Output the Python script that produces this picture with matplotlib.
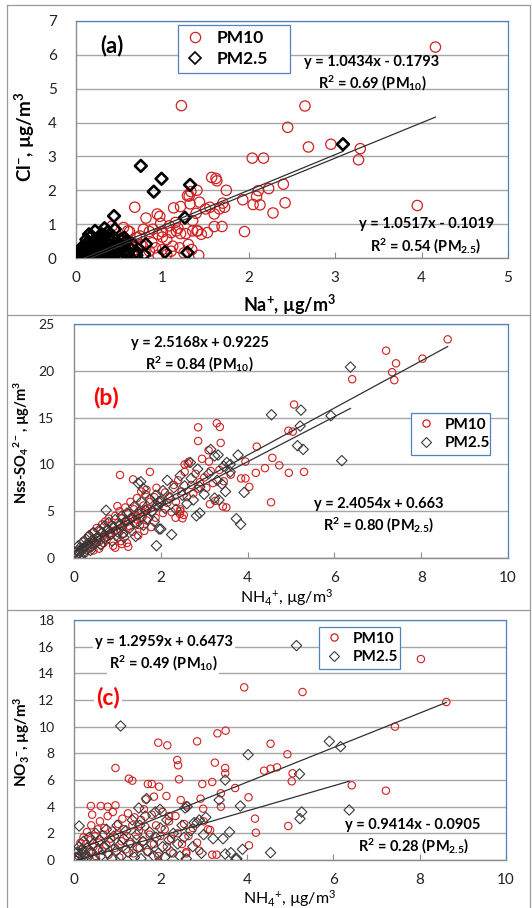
import numpy as np
import matplotlib
matplotlib.use("Agg")
import matplotlib.pyplot as plt
from matplotlib.lines import Line2D

plt.rcParams['font.family'] = ['Lato', 'DejaVu Sans']
plt.rcParams['mathtext.default'] = 'regular'

W, H = 532, 908

# ---- panel (a): Cl- vs Na+ ----
a_pm10 = np.array([
    (4.16, 6.23), (1.22, 4.50), (2.65, 4.49), (2.45, 3.86), (2.69, 3.28), (2.95, 3.36),
    (3.29, 3.23), (3.27, 2.90), (2.04, 2.95), (2.17, 2.95), (3.95, 1.55), (2.42, 1.63),
    (2.40, 2.18), (2.23, 2.05), (2.11, 1.99), (2.09, 1.82), (2.05, 1.58), (2.13, 1.57),
    (1.93, 1.72), (2.28, 1.33), (1.95, 0.78), (1.74, 2.00), (1.57, 2.38), (1.62, 2.35),
    (1.63, 2.28), (1.33, 1.96), (1.29, 1.84), (1.32, 1.60), (1.43, 1.65), (1.39, 1.32),
    (1.60, 0.93), (1.70, 1.62), (1.66, 1.45), (1.72, 1.50), (1.55, 1.50), (1.50, 1.45),
    (1.35, 0.80), (1.27, 0.72), (1.40, 0.80), (1.42, 0.08), (0.68, 1.50), (0.94, 1.30),
    (0.97, 1.23), (0.81, 1.18), (1.13, 1.48), (1.21, 1.52), (1.31, 1.83), (1.40, 2.00),
    (1.69, 0.93), (1.41, 0.80), (1.16, 0.80), (1.21, 0.72), (1.00, 0.77), (0.89, 0.85),
    (0.74, 0.65), (0.60, 0.80), (1.18, 0.88), (1.10, 0.75), (1.00, 0.62), (1.05, 0.55),
    (0.95, 0.70), (0.85, 0.78), (0.78, 0.85), (0.70, 0.60), (0.62, 0.78), (0.55, 0.90),
    (0.58, 0.45), (0.48, 0.55), (0.40, 0.70), (0.88, 0.45), (0.92, 0.30), (1.00, 0.25),
    (1.10, 0.20), (1.20, 0.30), (1.30, 0.40), (1.25, 0.15), (1.05, 0.10), (0.95, 0.08),
    (0.80, 0.15), (0.70, 0.25), (0.65, 0.10), (0.55, 0.20), (0.50, 0.05), (0.45, 0.30),
    (0.38, 0.15), (0.35, 0.40), (0.30, 0.25), (0.28, 0.08), (0.22, 0.30), (0.20, 0.12),
    (0.18, 0.02), (0.15, 0.20), (0.12, 0.08), (0.10, 0.15), (0.08, 0.03), (0.05, 0.08),
    (0.25, 0.50), (0.32, 0.55), (0.42, 0.95), (1.15, 1.05), (1.08, 0.95), (0.98, 1.02),
    (1.35, 1.10), (1.45, 0.70), (1.52, 0.75), (1.60, 1.30), (1.12, 0.35), (1.34, 0.25),
    (0.62, 0.35), (0.75, 0.40), (0.85, 0.20), (0.68, 0.05), (0.58, 0.12), (0.42, 0.10),
])
a_pm25 = np.array([
    (3.09, 3.36), (0.75, 2.72), (0.99, 2.34), (0.90, 1.96), (1.32, 2.16), (1.26, 1.19),
    (0.44, 1.24), (0.81, 0.41), (0.70, 0.08), (0.79, 0.10), (1.03, 0.18), (1.29, 0.16),
    (0.30, 0.70), (0.37, 0.78), (0.26, 0.62), (0.52, 0.55), (0.45, 0.85), (0.35, 0.45),
    (0.40, 0.30), (0.48, 0.20), (0.55, 0.35), (0.60, 0.12), (0.30, 0.20), (0.25, 0.40),
    (0.20, 0.50), (0.22, 0.25), (0.18, 0.12), (0.15, 0.30), (0.12, 0.18), (0.10, 0.05),
    (0.08, 0.12), (0.06, 0.03), (0.05, 0.10), (0.03, 0.05), (0.14, 0.08), (0.20, 0.02),
    (0.28, 0.05), (0.35, 0.12), (0.42, 0.05), (0.50, 0.08), (0.55, 0.02), (0.62, 0.30),
    (0.70, 0.18), (0.32, 0.32), (0.16, 0.40), (0.10, 0.25), (0.24, 0.15), (0.38, 0.58),
    (0.44, 0.40), (0.58, 0.50), (0.56, 0.60), (0.15, 0.70), (0.22, 0.80), (0.33, 0.88),
    (0.02, 0.02), (0.04, 0.15), (0.07, 0.22), (0.09, 0.35), (0.11, 0.10), (0.13, 0.45),
    (0.17, 0.05), (0.19, 0.22), (0.21, 0.38), (0.23, 0.08), (0.26, 0.28), (0.27, 0.18),
    (0.29, 0.42), (0.31, 0.10), (0.33, 0.22), (0.36, 0.03), (0.39, 0.40), (0.41, 0.18),
    (0.43, 0.62), (0.46, 0.10), (0.49, 0.35), (0.52, 0.25), (0.57, 0.15), (0.65, 0.42),
    (0.06, 0.30), (0.12, 0.55), (0.18, 0.65), (0.28, 0.52), (0.34, 0.65), (0.40, 0.50),
])

# ---- panel (b): nss-SO4 vs NH4 ----
b_pm10 = np.array([
    (8.61, 23.36), (7.19, 22.15), (7.42, 20.80), (8.03, 21.30), (7.33, 19.85), (7.38, 19.00),
    (6.41, 19.10), (5.07, 16.40), (4.94, 13.60), (5.04, 13.50), (4.21, 11.90), (4.57, 10.70),
    (4.73, 9.90), (4.40, 9.60), (4.19, 9.10), (4.95, 9.10), (5.30, 9.20), (4.54, 5.95),
    (3.95, 10.30), (4.04, 7.60), (3.85, 8.50), (3.61, 8.90), (2.86, 13.96), (2.86, 12.50),
    (3.29, 14.40), (3.36, 14.00), (3.38, 12.30), (3.10, 11.50), (3.43, 5.50), (3.25, 6.10),
    (2.44, 4.70), (2.34, 4.30), (1.06, 8.87), (1.75, 9.20), (1.36, 8.40), (1.00, 5.55),
    (1.67, 7.30), (2.50, 4.24), (2.53, 4.60), (2.45, 5.00), (2.55, 10.00), (2.62, 10.10),
    (3.11, 10.30), (3.51, 5.40), (3.13, 5.75), (3.95, 8.50),
    (0.10, 0.6), (0.15, 1.2), (0.20, 0.9), (0.22, 1.8), (0.25, 0.5), (0.30, 1.5),
    (0.35, 2.4), (0.38, 1.1), (0.42, 1.9), (0.45, 2.8), (0.50, 1.6), (0.52, 3.2),
    (0.55, 2.2), (0.60, 2.9), (0.62, 1.4), (0.65, 3.6), (0.70, 2.5), (0.72, 3.9),
    (0.75, 1.9), (0.78, 3.1), (0.80, 4.2), (0.85, 2.7), (0.88, 3.5), (0.90, 1.3),
    (0.95, 4.5), (0.98, 3.0), (1.00, 2.2), (1.02, 3.8), (1.05, 5.0), (1.08, 1.8),
    (1.10, 4.2), (1.12, 3.3), (1.15, 2.6), (1.18, 5.4), (1.20, 3.9), (1.22, 1.6),
    (1.25, 4.8), (1.28, 3.4), (1.30, 6.0), (1.32, 4.2), (1.35, 2.8), (1.38, 5.2),
    (1.40, 3.7), (1.42, 4.6), (1.45, 6.4), (1.48, 2.4), (1.50, 5.0), (1.52, 3.5),
    (1.55, 7.1), (1.58, 4.4), (1.60, 5.6), (1.62, 2.9), (1.65, 6.8), (1.68, 4.0),
    (1.70, 5.3), (1.75, 6.0), (1.78, 3.3), (1.80, 4.9), (1.85, 6.5), (1.88, 4.3),
    (1.90, 7.5), (1.95, 5.5), (2.00, 6.2), (2.05, 4.8), (2.10, 7.0), (2.15, 5.9),
    (2.20, 6.6), (2.25, 4.9), (2.30, 7.8), (2.35, 6.0), (2.40, 8.3), (2.45, 5.2),
    (2.48, 7.1), (2.55, 9.2), (2.60, 6.5), (2.65, 10.3), (2.70, 7.8), (2.75, 6.9),
    (2.80, 9.0), (2.85, 7.4), (2.90, 8.1), (2.95, 10.6), (3.00, 8.6), (3.05, 7.5),
    (3.15, 9.3), (3.20, 8.0), (3.35, 9.4), (3.45, 8.2), (0.45, 0.8), (0.58, 1.0),
    (0.68, 1.6), (0.95, 1.1), (1.10, 1.5), (1.25, 1.2),
    (0.40, 1.4), (0.55, 1.9), (0.70, 2.1), (0.82, 2.4), (0.92, 2.9), (1.05, 3.1),
    (1.15, 3.6), (1.25, 3.9), (1.35, 4.3), (1.45, 4.1), (1.55, 4.9), (1.65, 5.2),
])
b_pm25 = np.array([
    (6.37, 20.4), (4.55, 15.3), (5.23, 15.8), (5.21, 14.1), (5.92, 15.2), (5.15, 12.0),
    (5.28, 11.6), (6.17, 10.4), (3.78, 11.0), (3.24, 10.9), (3.92, 7.0), (3.74, 4.2),
    (3.84, 3.6), (3.41, 7.9), (3.24, 6.4), (2.90, 4.8), (2.82, 4.5), (1.90, 1.32),
    (2.25, 2.5), (1.48, 8.0), (0.74, 5.1), (3.52, 10.2), (2.68, 10.2), (3.15, 11.6),
    (3.32, 11.0), (3.60, 10.0), (3.34, 6.2), (3.49, 7.1), (1.54, 8.15), (1.60, 7.4),
    (1.95, 6.0), (2.00, 3.1),
    (0.05, 0.3), (0.08, 0.8), (0.10, 1.3), (0.12, 0.5), (0.15, 0.1), (0.18, 1.0),
    (0.20, 1.7), (0.22, 0.6), (0.25, 1.2), (0.28, 2.0), (0.30, 0.9), (0.32, 1.5),
    (0.35, 2.4), (0.40, 1.2), (0.42, 1.9), (0.45, 2.7), (0.50, 1.6), (0.55, 2.3),
    (0.58, 3.0), (0.60, 1.9), (0.65, 2.7), (0.70, 3.4), (0.72, 2.1), (0.78, 3.0),
    (0.80, 3.8), (0.85, 2.5), (0.90, 3.3), (0.95, 4.1), (1.00, 2.8), (1.05, 3.6),
    (1.10, 4.5), (1.12, 2.6), (1.18, 3.9), (1.22, 4.8), (1.28, 3.2), (1.32, 4.3),
    (1.38, 5.5), (1.42, 2.3), (1.45, 3.7), (1.50, 4.7), (1.55, 6.0), (1.60, 3.5),
    (1.65, 5.1), (1.70, 4.2), (1.75, 6.3), (1.80, 5.0), (1.85, 3.9), (1.88, 6.7),
    (1.92, 5.6), (1.96, 3.1), (2.00, 6.0), (2.05, 7.2), (2.10, 5.3), (2.15, 8.3),
    (2.20, 6.4), (2.30, 7.5), (2.35, 5.2), (2.45, 8.8), (2.50, 6.7), (2.55, 7.7),
    (2.60, 5.8), (2.70, 8.5), (2.75, 6.2), (2.85, 9.5), (2.90, 7.6), (3.00, 6.8),
    (3.10, 9.0), (3.30, 8.3), (3.45, 9.8), (3.60, 9.2),
    (0.03, 0.6), (0.15, 0.7), (0.38, 0.8), (0.62, 1.4), (0.88, 1.8), (1.15, 2.2),
])

# ---- panel (c): NO3 vs NH4 ----
c_pm10 = np.array([
    (8.03, 15.07), (3.94, 12.95), (5.29, 12.60), (8.62, 11.85), (7.43, 10.00), (3.51, 9.70),
    (3.32, 9.50), (2.85, 8.90), (1.95, 8.80), (2.16, 8.60), (2.39, 7.50), (2.41, 7.10),
    (3.26, 7.30), (3.50, 6.90), (3.50, 6.50), (4.55, 8.72), (4.94, 7.93), (4.40, 6.70),
    (4.55, 6.85), (4.70, 6.95), (5.06, 6.50), (5.04, 5.90), (6.43, 5.60), (7.22, 5.20),
    (4.04, 4.70), (4.19, 3.10), (4.21, 2.05), (4.96, 2.55), (4.05, 1.10), (0.96, 6.90),
    (1.27, 6.10), (1.35, 5.95), (1.71, 5.70), (1.80, 5.70), (1.97, 5.50), (2.97, 5.70),
    (3.20, 5.85), (3.73, 5.40), (3.40, 5.00), (3.40, 4.00), (0.39, 4.05), (0.62, 4.05),
    (0.78, 4.00), (0.96, 4.10), (0.42, 3.40), (1.66, 4.55), (1.85, 4.75), (2.14, 4.80),
    (2.47, 4.50), (2.93, 4.60), (2.99, 3.85), (2.43, 6.05), (3.10, 2.30), (3.15, 2.25),
    (3.30, 0.40), (3.20, 0.40), (2.20, 3.30), (2.60, 4.10), (2.60, 0.50),
    (0.10, 0.3), (0.15, 1.3), (0.20, 0.8), (0.22, 1.7), (0.25, 0.2), (0.28, 1.2),
    (0.30, 2.1), (0.35, 0.6), (0.38, 1.5), (0.40, 2.6), (0.45, 1.0), (0.48, 1.8),
    (0.50, 0.3), (0.55, 2.3), (0.58, 1.3), (0.60, 2.9), (0.65, 0.7), (0.68, 1.9),
    (0.70, 2.4), (0.75, 1.1), (0.78, 3.3), (0.80, 0.4), (0.85, 1.6), (0.88, 2.2),
    (0.90, 3.6), (0.95, 0.9), (1.00, 1.9), (1.02, 2.7), (1.05, 0.2), (1.10, 1.4),
    (1.12, 3.1), (1.15, 2.3), (1.20, 0.8), (1.22, 1.8), (1.25, 3.5), (1.30, 1.2),
    (1.35, 2.6), (1.38, 0.5), (1.40, 3.2), (1.45, 1.6), (1.50, 2.2), (1.52, 0.9),
    (1.55, 3.0), (1.60, 1.4), (1.62, 3.8), (1.65, 2.5), (1.70, 0.6), (1.75, 1.9),
    (1.80, 3.4), (1.85, 1.2), (1.90, 2.6), (1.95, 0.3), (2.00, 1.8), (2.05, 3.6),
    (2.10, 2.3), (2.15, 1.0), (2.20, 2.9), (2.25, 1.6), (2.30, 0.5), (2.35, 3.3),
    (2.40, 2.0), (2.50, 1.2), (2.55, 2.7), (2.60, 0.6), (2.65, 1.8), (2.75, 2.4),
    (2.85, 1.3), (2.90, 0.7), (3.00, 2.9),
])
c_pm25 = np.array([
    (5.15, 16.08), (1.08, 10.05), (5.91, 8.90), (6.17, 8.50), (4.03, 7.90), (5.22, 6.45),
    (3.50, 6.00), (6.37, 3.75), (5.27, 3.60), (5.23, 3.10), (3.85, 4.05), (3.36, 4.50),
    (2.57, 3.90), (2.62, 4.00), (1.68, 4.60), (1.50, 3.90), (0.12, 2.55), (3.60, 2.10),
    (3.45, 1.60), (3.22, 1.60), (2.78, 2.80), (2.90, 3.00), (4.55, 0.55), (3.75, 0.05),
    (3.77, 0.10), (3.50, 0.45), (1.99, 3.80), (3.05, 3.20), (3.63, 0.55), (3.90, 0.80),
    (0.05, 0.2), (0.08, 0.6), (0.10, 0.1), (0.12, 1.0), (0.15, 0.4), (0.18, 0.8),
    (0.20, 0.05), (0.22, 1.4), (0.25, 0.5), (0.30, 0.9), (0.32, 0.2), (0.35, 1.7),
    (0.40, 0.6), (0.45, 1.2), (0.48, 0.1), (0.50, 2.0), (0.55, 0.8), (0.60, 1.5),
    (0.62, 0.3), (0.70, 1.0), (0.75, 2.3), (0.78, 0.5), (0.82, 1.3), (0.88, 0.1),
    (0.92, 1.8), (0.98, 0.7), (1.00, 2.6), (1.05, 1.1), (1.10, 0.3), (1.15, 1.6),
    (1.20, 2.2), (1.25, 0.6), (1.30, 1.3), (1.35, 3.0), (1.40, 0.2), (1.45, 1.9),
    (1.48, 0.9), (1.52, 2.6), (1.55, 0.1), (1.60, 1.4), (1.65, 3.3), (1.70, 0.7),
    (1.75, 2.1), (1.80, 1.2), (1.85, 0.3), (1.88, 3.6), (1.90, 1.7), (1.95, 0.5),
    (2.00, 2.4), (2.05, 1.0), (2.10, 0.2), (2.15, 3.0), (2.20, 1.5), (2.25, 0.6),
    (2.30, 2.0), (2.40, 1.2), (2.45, 0.3), (2.50, 2.6), (2.55, 1.7), (2.60, 0.1),
    (2.70, 2.2), (2.75, 1.0), (2.85, 2.8), (2.95, 0.5), (3.00, 1.9),
])

# trendline coefficients (slope, intercept)
fit_a10, fit_a25 = (1.0434, -0.1793), (1.0517, -0.1019)
fit_b10, fit_b25 = (2.5168, 0.9225), (2.4054, 0.663)
fit_c10, fit_c25 = (1.2959, 0.6473), (0.9414, -0.0905)

RED = '#d02020'
GRID = '#a6a6a6'
BLUE = '#4f81bd'


def px(x, y):
    return x / W, 1 - y / H


def make_axes(left, top, right, bottom, xmax, ymax, ystep, xstep, yfs, xfs):
    ax = fig.add_axes([left / W, 1 - bottom / H, (right - left) / W, (bottom - top) / H])
    ax.set_xlim(0, xmax)
    ax.set_ylim(0, ymax)
    ax.set_xticks(np.arange(0, xmax + 0.01, xstep))
    ax.set_yticks(np.arange(0, ymax + 0.01, ystep))
    ax.yaxis.grid(True, color=GRID, lw=1.0)
    ax.set_axisbelow(True)
    for s in ('top', 'right'):
        ax.spines[s].set_color(BLUE)
        ax.spines[s].set_linewidth(0.9)
    for s in ('left', 'bottom'):
        ax.spines[s].set_color('#8c8c8c')
        ax.spines[s].set_linewidth(1.0)
    ax.tick_params(axis='x', direction='in', length=4, color='#8c8c8c',
                   labelsize=xfs, pad=9, labelcolor='#222222')
    ax.tick_params(axis='y', length=0, labelsize=yfs, pad=14, labelcolor='#222222')
    return ax


def trend(ax, data, fit):
    xs = np.array([data[:, 0].min(), data[:, 0].max()])
    ax.plot(xs, fit[0] * xs + fit[1], color='#303030', lw=0.9, zorder=5)


def legend(ax, x0, y0, x1, y1, fs, ms10, ms25, mew25, c25):
    h = [Line2D([], [], ls='none', marker='o', mfc='none', mec=RED, ms=ms10, mew=0.9),
         Line2D([], [], ls='none', marker='D', mfc='none', mec=c25, ms=ms25, mew=mew25)]
    leg = ax.legend(h, ['PM10', 'PM2.5'], loc='upper left',
                    bbox_to_anchor=(x0 / W, 1 - y1 / H, (x1 - x0) / W, (y1 - y0) / H),
                    bbox_transform=fig.transFigure, mode='expand', fancybox=False,
                    framealpha=1, edgecolor=BLUE, borderpad=0.3, labelspacing=0.3,
                    handletextpad=0.5, handlelength=1.4, borderaxespad=0,
                    prop={'weight': 'bold', 'size': fs})
    leg.get_frame().set_linewidth(0.9)
    leg.set_zorder(10)


def label(x, y, s, fs, weight='bold', color='black', rot=0, box=False):
    kw = dict(ha='center', va='center', fontsize=fs, fontweight=weight, color=color,
              rotation=rot)
    if box:
        kw['bbox'] = dict(facecolor='white', edgecolor='none', pad=1.5)
    fig.text(*px(x, y), s, **kw)


fig = plt.figure(figsize=(W / 100, H / 100), dpi=100)

# panel frames
for y in (5, 315, 610):
    fig.add_artist(Line2D([7 / W, 530 / W], [1 - y / H] * 2, color='#9a9a9a', lw=0.9))
for x in (7, 530):
    fig.add_artist(Line2D([x / W] * 2, [1 - 5 / H, 0], color='#9a9a9a', lw=0.9))

EQ = 10.5

# (a)
ax = make_axes(76, 21, 508, 258, 5, 7, 1, 1, 11, 11)
ax.scatter(a_pm10[:, 0], a_pm10[:, 1], s=55, facecolors='none', edgecolors=RED, lw=0.9, zorder=3)
ax.scatter(a_pm25[:, 0], a_pm25[:, 1], s=36, marker='D', facecolors='none', edgecolors='black',
           lw=1.9, zorder=4)
trend(ax, a_pm10, fit_a10)
trend(ax, a_pm25, fit_a25)
legend(ax, 178, 25, 290, 68, 12.5, 7.4, 6.2, 1.2, 'black')
label(112, 46, '(a)', 16)
label(372, 62, 'y = 1.0434x - 0.1793', EQ)
label(372, 83, 'R$^2$ = 0.69 (PM$_{10}$)', EQ)
label(427, 224, 'y = 1.0517x - 0.1019', EQ)
label(426, 246, 'R$^2$ = 0.54 (PM$_{2.5}$)', EQ)
label(25, 137, 'Cl$^{-}$, µg/m$^{3}$', 13.5, rot=90)
label(290, 305, 'Na$^{+}$, µg/m$^{3}$', 13)

# (b)
ax = make_axes(74, 324, 508, 558, 10, 25, 5, 2, 10, 11)
ax.scatter(b_pm10[:, 0], b_pm10[:, 1], s=28, facecolors='none', edgecolors=RED, lw=0.8, zorder=3)
ax.scatter(b_pm25[:, 0], b_pm25[:, 1], s=28, marker='D', facecolors='none', edgecolors='#3a3a3a',
           lw=0.8, zorder=4)
trend(ax, b_pm10, fit_b10)
trend(ax, b_pm25, fit_b25)
legend(ax, 411, 413, 490, 466, 11, 5.2, 5.2, 0.8, '#3a3a3a')
label(106, 397, '(b)', 16.5, color='#ff0000')
label(200, 343, 'y = 2.5168x + 0.9225', EQ)
label(199, 364, 'R$^2$ = 0.84 (PM$_{10}$)', EQ)
label(379, 504, 'y = 2.4054x + 0.663', EQ)
label(379, 525, 'R$^2$ = 0.80 (PM$_{2.5}$)', EQ)
label(22, 442, 'Nss-SO$_4$$^{2-}$, µg/m$^{3}$', 10.5, rot=90)
label(287, 598, 'NH$_4$$^{+}$, µg/m$^{3}$', 11.5, weight='normal')

# (c)
ax = make_axes(74, 620, 506, 860, 10, 18, 2, 2, 10, 11)
ax.scatter(c_pm10[:, 0], c_pm10[:, 1], s=28, facecolors='none', edgecolors=RED, lw=0.8, zorder=3)
ax.scatter(c_pm25[:, 0], c_pm25[:, 1], s=28, marker='D', facecolors='none', edgecolors='#3a3a3a',
           lw=0.8, zorder=4)
trend(ax, c_pm10, fit_c10)
trend(ax, c_pm25, fit_c25)
legend(ax, 319, 627, 400, 676, 11, 5.2, 5.2, 0.8, '#3a3a3a')
label(108, 698, '(c)', 16.5, color='#ff0000', box=True)
label(164, 642, 'y = 1.2959x + 0.6473', EQ, box=True)
label(163, 663, 'R$^2$ = 0.49 (PM$_{10}$)', EQ, box=True)
label(413, 825, 'y = 0.9414x - 0.0905', EQ)
label(414, 846, 'R$^2$ = 0.28 (PM$_{2.5}$)', EQ)
label(22, 742, 'NO$_3$$^{-}$, µg/m$^{3}$', 11, rot=90)
label(290, 899, 'NH$_4$$^{+}$, µg/m$^{3}$', 11.5, weight='normal')

fig.savefig('out.png', dpi=100)
